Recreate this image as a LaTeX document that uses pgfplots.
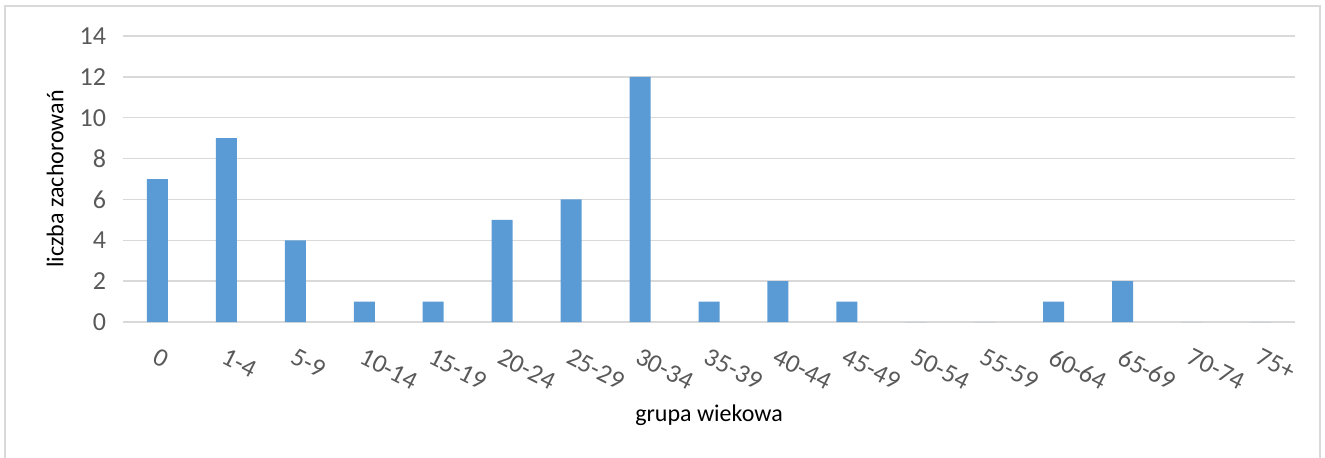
\documentclass[border=0pt]{standalone}
\usepackage{pgfplots}
\pgfplotsset{compat=1.18}
\usepackage{fontspec}
\setmainfont{Carlito}
\definecolor{barblue}{HTML}{5B9BD5}
\definecolor{gridgray}{HTML}{D9D9D9}
\definecolor{textgray}{HTML}{595959}
\begin{document}
\begin{tikzpicture}
\path[use as bounding box] (0,0) rectangle (662.5pt,228.5pt);
\draw[gridgray, line width=0.75pt] (2.5pt,-5pt) rectangle (660pt,225.5pt);
\begin{axis}[
    at={(61.5pt,67.5pt)}, anchor=south west,
    scale only axis,
    width=586pt, height=143pt,
    ybar, bar width=10.5pt,
    xmin=-0.5, xmax=16.5,
    ymin=0, ymax=14,
    ytick={0,2,...,14},
    xtick=data,
    xticklabels={0,1-4,5-9,10-14,15-19,20-24,25-29,30-34,35-39,40-44,45-49,50-54,55-59,60-64,65-69,70-74,75+},
    axis line style={draw=none},
    major tick length=0pt,
    ymajorgrids,
    grid style={gridgray, line width=0.75pt},
    /pgf/number format/assume math mode=true,
    ticklabel style={font=\fontsize{13}{15}\selectfont, text=textgray},
    yticklabel style={xshift=-5pt},
    xticklabel style={rotate=-27, anchor=north west, xshift=3pt, yshift=-7.5pt},
    label style={font=\fontsize{12}{14}\selectfont, text=black},
    xlabel={grupa wiekowa},
    ylabel={liczba zachorowań},
    xlabel style={at={(axis description cs:0.5,-0.325)}, anchor=center},
    ylabel style={at={(axis description cs:-0.058,0.5)}, anchor=center},
]
\addplot[fill=barblue, draw=none] coordinates {
    (0,7) (1,9) (2,4) (3,1) (4,1) (5,5) (6,6) (7,12) (8,1)
    (9,2) (10,1) (11,0) (12,0) (13,1) (14,2) (15,0) (16,0)
};
\end{axis}
\end{tikzpicture}
\end{document}
